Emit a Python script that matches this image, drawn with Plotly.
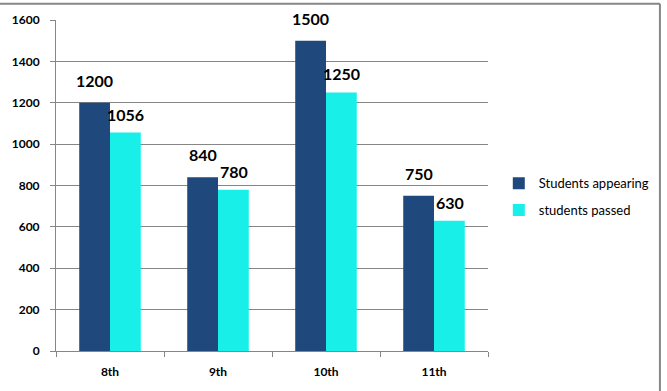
import plotly.graph_objects as go

categories = ["8th", "9th", "10th", "11th"]
appearing = [1200, 840, 1500, 750]
passed = [1056, 780, 1250, 630]
y_ticks = [0, 200, 400, 600, 800, 1000, 1200, 1400, 1600]

DARK = "#1F497D"
CYAN = "#19EFE9"
GRID = "#868686"
FONT = "Lato, Open Sans, sans-serif"

fig = go.Figure()
fig.add_trace(go.Bar(x=categories, y=appearing, name="Students appearing",
                     marker=dict(color=DARK, line=dict(width=0)), legendgroup="a"))
fig.add_trace(go.Bar(x=categories, y=passed, name="students passed",
                     marker=dict(color=CYAN, line=dict(width=0)), legendgroup="b"))

annotations = []
for cat, v in zip(categories, appearing):
    annotations.append(dict(x=cat, y=v, text=f"<b>{v}</b>", showarrow=False,
                            xshift=-15.5, yshift=11, yanchor="bottom",
                            font=dict(size=16, color="black", family=FONT)))
for cat, v in zip(categories, passed):
    annotations.append(dict(x=cat, y=v, text=f"<b>{v}</b>", showarrow=False,
                            xshift=15.5, yshift=7, yanchor="bottom",
                            font=dict(size=16, color="black", family=FONT)))

fig.update_layout(
    width=667, height=391,
    margin=dict(l=53, r=177, t=19.5, b=39),
    paper_bgcolor="white", plot_bgcolor="white",
    barmode="group", bargap=0.43, bargroupgap=0,
    font=dict(family=FONT, color="black"),
    annotations=annotations,
    legend=dict(x=1.025, y=0.466, xanchor="left", yanchor="middle",
                font=dict(size=13, color="black", family=FONT),
                tracegroupgap=7, itemwidth=30, bgcolor="rgba(0,0,0,0)"),
    shapes=[
        dict(type="line", xref="paper", yref="paper", x0=-0.13, x1=1.398, y0=1.049, y1=1.049,
             line=dict(color=GRID, width=2)),
        dict(type="line", xref="paper", yref="paper", x0=1.398, x1=1.398, y0=1.049, y1=-0.2,
             line=dict(color=GRID, width=2)),
    ],
)
fig.update_xaxes(type="category", showline=True, linecolor=GRID, linewidth=1,
                 ticks="outside", ticklen=5, tickcolor=GRID, tickson="boundaries",
                 showgrid=False, tickfont=dict(size=12, family=FONT, color="black"),
                 ticklabelstandoff=10)
fig.update_yaxes(range=[0, 1600], tickvals=y_ticks, ticktext=[f"<b>{t}</b>" for t in y_ticks],
                 showline=True, linecolor=GRID, linewidth=1,
                 ticks="outside", ticklen=5, tickcolor=GRID,
                 showgrid=True, gridcolor=GRID, gridwidth=1, zeroline=False,
                 tickfont=dict(size=12, family=FONT, color="black"),
                 ticklabelstandoff=8)
fig.update_xaxes(ticktext=[f"<b>{c}</b>" for c in categories], tickvals=categories)

fig.write_html("out.html", config={"displayModeBar": False},
               post_script="document.body.style.margin='0';")
